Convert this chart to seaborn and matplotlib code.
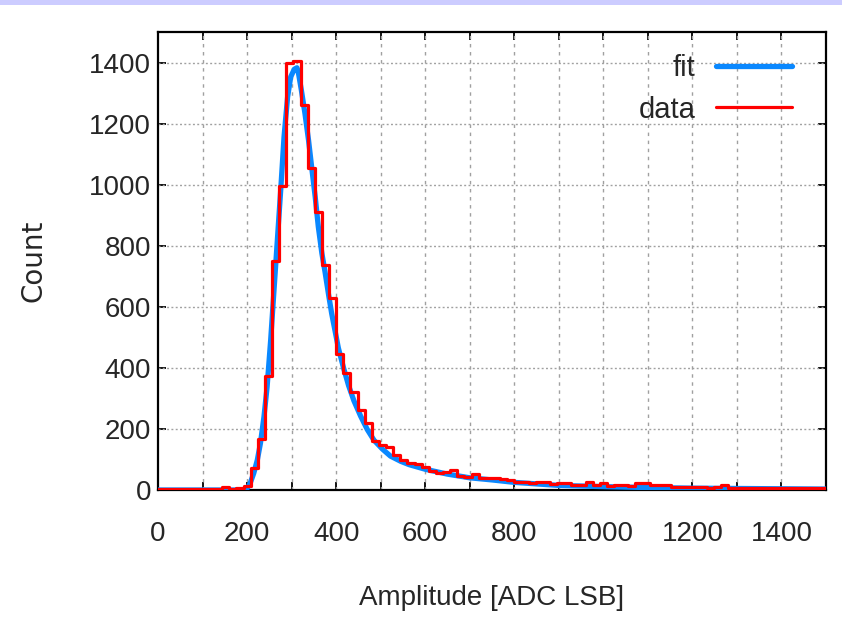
import numpy as np
import pandas as pd
import seaborn as sns
import matplotlib
matplotlib.use('Agg')
from matplotlib import pyplot as plt
from matplotlib.lines import Line2D
from matplotlib.patches import Rectangle
from matplotlib.ticker import MultipleLocator

# histogram: 16 LSB wide bins, counts
bin_width = 16
counts = [3, 3, 3, 3, 3, 3, 3, 3, 4, 9, 3, 7, 12,
          71, 167, 373, 750, 995, 1400, 1405, 1260, 1053, 909, 736, 630,
          445, 382, 320, 262, 218, 160, 149, 142, 113, 98, 90, 85, 75,
          62, 57, 60, 66, 47, 44, 52, 38, 40, 40, 36, 33, 27, 26, 22,
          27, 27, 20, 22, 22, 18, 16, 26, 15, 24, 14, 15, 15, 14, 22,
          22, 17, 17, 17, 10, 10, 10, 9, 9, 8, 9, 16, 8, 8, 7, 7, 7,
          7, 6, 6, 6, 6, 6, 5, 5, 5]

# fitted curve, points
fit_x = [0, 100, 180, 190, 200, 207, 215, 223, 230, 238, 245, 253, 260,
         268, 276, 283, 291, 298, 306, 312, 315, 322, 330, 338, 345, 353,
         360, 368, 375, 383, 390, 398, 405, 417, 428, 440, 455, 470, 485,
         504, 522, 545, 564, 600, 650, 700, 750, 800, 850, 900, 1000,
         1100, 1200, 1300, 1400, 1500]
fit_y = [0, 0, 0, 1, 5, 22, 55, 98, 153, 240, 338, 491, 644,
         818, 993, 1156, 1287, 1353, 1378, 1383, 1369, 1309, 1233, 1146, 1058, 960,
         862, 775, 715, 640, 578, 518, 465, 398, 342, 292, 242, 198, 163,
         134, 111, 94, 83, 68, 52, 40, 33, 25, 20, 15, 11,
         8, 6, 5, 4, 3]

x_ticks = [0, 200, 400, 600, 800, 1000, 1200, 1400]
y_ticks = [0, 200, 400, 600, 800, 1000, 1200, 1400]

n_bins = len(counts)
hist = pd.DataFrame({'amp': [bin_width * (i + 0.5) for i in range(n_bins)],
                     'count': counts})
fit = pd.DataFrame({'amp': fit_x, 'count': fit_y})

sns.set_style('ticks')
plt.rcParams['font.family'] = ['Liberation Sans', 'DejaVu Sans']

red = '#ff0000'
blue = '#0a88ff'

fig = plt.figure(figsize=(8.42, 6.19), dpi=100)
fig.add_artist(Rectangle((0, 1 - 5 / 619), 1, 5 / 619, transform=fig.transFigure,
                         color='#ccccff', lw=0))
ax = fig.add_axes([158 / 842, 129 / 619, 668 / 842, 458 / 619])

sns.lineplot(data=fit, x='amp', y='count', color=blue, lw=3.8, ax=ax, zorder=3)
sns.histplot(data=hist, x='amp', weights='count', binwidth=bin_width,
             binrange=(0, bin_width * n_bins), element='step',
             fill=False, color=red, lw=2.3, ax=ax, zorder=4)

ax.set_xlim(0, 1500)
ax.set_ylim(0, 1500)
ax.set_xticks(x_ticks)
ax.set_yticks(y_ticks)
ax.xaxis.set_minor_locator(MultipleLocator(100))

ax.grid(False)
for v in range(100, 1500, 100):
    ax.axvline(v, color='#a0a0a0', lw=1.0, ls=(0, (2.5, 3.3)), zorder=1)
for h in y_ticks[1:]:
    ax.axhline(h, color='#a0a0a0', lw=1.0, ls=(0, (1.4, 1.7)), zorder=1)

ax.tick_params(axis='both', which='both', direction='in', top=True, right=True,
               width=1.3, color='black', labelsize=20)
ax.tick_params(axis='y', length=6, pad=5)
ax.tick_params(axis='x', which='major', length=6, pad=22)
ax.tick_params(axis='x', which='minor', length=6)
for s in ax.spines.values():
    s.set_linewidth(1.6)
    s.set_color('black')

ax.set_xlabel('Amplitude [ADC LSB]', fontsize=20, labelpad=28)
ax.set_ylabel('Count', fontsize=20, labelpad=30,
              family=['DejaVu Sans'])

handles = [Line2D([], [], color=blue, lw=3.8), Line2D([], [], color=red, lw=2.3)]
ax.legend(handles, ['fit', 'data'], loc='upper right', frameon=False,
          markerfirst=False, fontsize=21, handlelength=2.6, handletextpad=0.7,
          labelspacing=0.47, borderaxespad=0, borderpad=0,
          bbox_to_anchor=(0.949, 0.952))

sns.despine(ax=ax, top=False, right=False)
fig.savefig('out.png', dpi=100)
